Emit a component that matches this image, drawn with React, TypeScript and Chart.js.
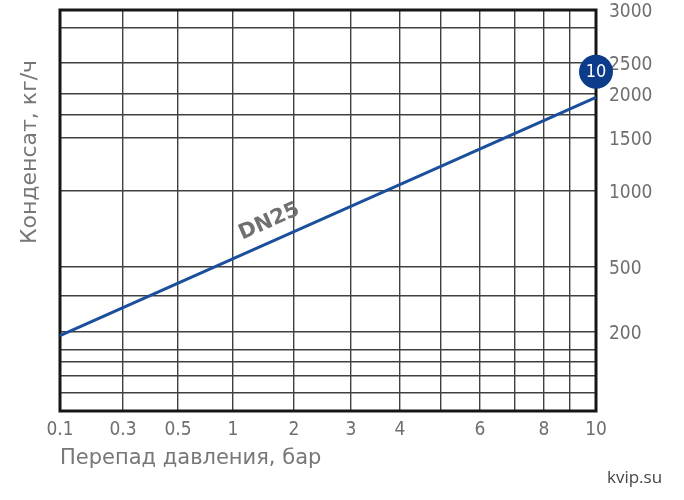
import React, { useEffect, useRef } from 'react';
import { Chart, Scale, registerables } from 'chart.js';

// ---- data ----
const pressureTicks = [0.1, 0.3, 0.5, 1, 2, 3, 4, 5, 6, 7, 8, 9, 10];
const pressureTickLabels = ['0.1', '0.3', '0.5', '1', '2', '3', '4', '', '6', '', '8', '', '10'];
const condensateTicks = [0, 50, 90, 120, 150, 200, 300, 500, 1000, 1500, 1750, 2000, 2500, 2800, 3000];
const condensateTickLabels = ['', '', '', '', '', '200', '', '500', '1000', '1500', '', '2000', '2500', '', '3000'];
const dn25Pressure = [0.1, 10];
const dn25Condensate = [190, 1960];
const markerPressure = [10];
const markerCondensate = [2360];
const markerText = ['10'];
const seriesLabel = 'DN25';

// ---- axis geometry of the nomogram (relative position of each grid value) ----
const axisGeometry: Record<string, { values: number[]; positions: number[] }> = {
  x: {
    values: pressureTicks,
    positions: [0, 0.1175, 0.2201, 0.3228, 0.4366, 0.5429, 0.6343, 0.7108, 0.7836, 0.8489, 0.903, 0.9515, 1],
  },
  y: {
    values: condensateTicks,
    positions: [0, 0.0449, 0.0873, 0.1222, 0.1521, 0.197, 0.2868, 0.3591, 0.5486, 0.6808, 0.7382, 0.7905, 0.8678, 0.9551, 1],
  },
};

class NomogramScale extends Scale {
  static id = 'nomogram';
  static defaults = {};
  geo() {
    return axisGeometry[(this as any).id];
  }
  determineDataLimits() {
    const v = this.geo().values;
    (this as any).min = v[0];
    (this as any).max = v[v.length - 1];
  }
  buildTicks() {
    return this.geo().values.map((value) => ({ value }));
  }
  getLabelForValue(value: number) {
    return String(value);
  }
  toDecimal(value: number) {
    const { values: v, positions: f } = this.geo();
    if (value <= v[0]) return f[0];
    for (let i = 0; i < v.length - 1; i++) {
      if (value <= v[i + 1]) {
        return f[i] + ((value - v[i]) / (v[i + 1] - v[i])) * (f[i + 1] - f[i]);
      }
    }
    return f[f.length - 1];
  }
  getPixelForValue(value: number) {
    return (this as any).getPixelForDecimal(this.toDecimal(value));
  }
  getPixelForTick(index: number) {
    const t = (this as any).ticks[index];
    return this.getPixelForValue(t.value);
  }
  getValueForPixel(pixel: number) {
    const d = (this as any).getDecimalForPixel(pixel);
    const { values: v, positions: f } = this.geo();
    for (let i = 0; i < f.length - 1; i++) {
      if (d <= f[i + 1]) return v[i] + ((d - f[i]) / (f[i + 1] - f[i])) * (v[i + 1] - v[i]);
    }
    return v[v.length - 1];
  }
}

Chart.register(...registerables, NomogramScale as any);

const TICK_FONT = "'DejaVu Sans Condensed', 'DejaVu Sans', sans-serif";
const GRAY = '#6f6f6f';

const decorPlugin = {
  id: 'decor',
  beforeDatasetsDraw(chart: any) {
    const { ctx, chartArea: a } = chart;
    ctx.save();
    ctx.strokeStyle = '#161616';
    ctx.lineWidth = 3;
    ctx.strokeRect(a.left, a.top, a.right - a.left, a.bottom - a.top);
    ctx.restore();
  },
  afterDatasetsDraw(chart: any) {
    const { ctx } = chart;
    // marker text
    const mm = chart.getDatasetMeta(1);
    ctx.save();
    ctx.fillStyle = '#ffffff';
    ctx.font = `18px ${TICK_FONT}`;
    ctx.textAlign = 'center';
    ctx.textBaseline = 'middle';
    mm.data.forEach((pt: any, i: number) => ctx.fillText(markerText[i], pt.x, pt.y + 1));
    ctx.restore();

    // series label along the line
    const lm = chart.getDatasetMeta(0);
    const p0 = lm.data[0];
    const p1 = lm.data[lm.data.length - 1];
    const ang = Math.atan2(p1.y - p0.y, p1.x - p0.x);
    const t = 0.405;
    const off = 19;
    const lx = p0.x + t * (p1.x - p0.x) + Math.sin(ang) * off;
    const ly = p0.y + t * (p1.y - p0.y) - Math.cos(ang) * off;
    ctx.save();
    ctx.translate(lx, ly);
    ctx.rotate(ang);
    ctx.fillStyle = '#707070';
    ctx.font = `bold 21px 'DejaVu Sans', sans-serif`;
    ctx.textAlign = 'center';
    ctx.textBaseline = 'middle';
    ctx.fillText(seriesLabel, 0, 0);
    ctx.restore();
  },
  afterDraw(chart: any) {
    const { ctx } = chart;
    ctx.save();
    ctx.fillStyle = '#777777';
    ctx.font = `22px 'DejaVu Sans', sans-serif`;
    ctx.translate(30, 152);
    ctx.rotate(-Math.PI / 2);
    ctx.textAlign = 'center';
    ctx.textBaseline = 'middle';
    ctx.fillText('Конденсат, кг/ч', 0, 0);
    ctx.restore();

    ctx.save();
    ctx.fillStyle = '#454545';
    ctx.font = `17px 'Open Sans', sans-serif`;
    ctx.textAlign = 'left';
    ctx.textBaseline = 'alphabetic';
    ctx.fillText('kvip.su', 607, 483);
    ctx.restore();
  },
};

export default function App() {
  const canvasRef = useRef<HTMLCanvasElement | null>(null);

  useEffect(() => {
    if (!canvasRef.current) return;
    const chart = new Chart(canvasRef.current, {
      type: 'line',
      data: {
        datasets: [
          {
            label: seriesLabel,
            data: dn25Pressure.map((x, i) => ({ x, y: dn25Condensate[i] })),
            borderColor: '#1a4f9c',
            borderWidth: 3,
            pointRadius: 0,
            tension: 0,
            fill: false,
          },
          {
            label: 'marker',
            data: markerPressure.map((x, i) => ({ x, y: markerCondensate[i] })),
            showLine: false,
            pointRadius: 17,
            pointHoverRadius: 17,
            pointBackgroundColor: '#0c3b8a',
            pointBorderWidth: 0,
            clip: false as any,
          },
        ],
      },
      options: {
        animation: false,
        responsive: true,
        maintainAspectRatio: false,
        events: [],
        layout: { autoPadding: false, padding: { left: 60, top: 10, right: 0, bottom: 0 } },
        plugins: { legend: { display: false }, tooltip: { enabled: false } },
        scales: {
          x: {
            type: 'nomogram' as any,
            position: 'bottom',
            grid: { color: '#404040', lineWidth: 1.4, drawTicks: false },
            border: { display: false },
            ticks: {
              autoSkip: false,
              maxRotation: 0,
              minRotation: 0,
              padding: 10,
              color: GRAY,
              font: { family: TICK_FONT, size: 19, lineHeight: 1 },
              callback: (_v: any, i: number) => pressureTickLabels[i],
            },
            title: {
              display: true,
              text: 'Перепад давления, бар',
              align: 'start',
              color: '#777777',
              font: { family: "'DejaVu Sans', sans-serif", size: 21, lineHeight: 1 },
              padding: { top: 0, bottom: 31 },
            },
            afterFit: (s: any) => {
              s.height = 89;
              s.paddingLeft = 0;
              s.paddingRight = 0;
            },
          } as any,
          y: {
            type: 'nomogram' as any,
            position: 'right',
            grid: { color: '#404040', lineWidth: 1.4, drawTicks: false },
            border: { display: false },
            ticks: {
              autoSkip: false,
              padding: 13,
              labelOffset: 2,
              color: GRAY,
              font: { family: TICK_FONT, size: 19, lineHeight: 1 },
              callback: (_v: any, i: number) => condensateTickLabels[i],
            },
            afterFit: (s: any) => {
              s.width = 88;
              s.paddingTop = 0;
              s.paddingBottom = 0;
            },
          } as any,
        },
      },
      plugins: [decorPlugin],
    });
    return () => chart.destroy();
  }, []);

  return (
    <div style={{ position: 'fixed', left: 0, top: 0, width: 684, height: 500, background: '#ffffff' }}>
      <canvas ref={canvasRef} />
    </div>
  );
}
